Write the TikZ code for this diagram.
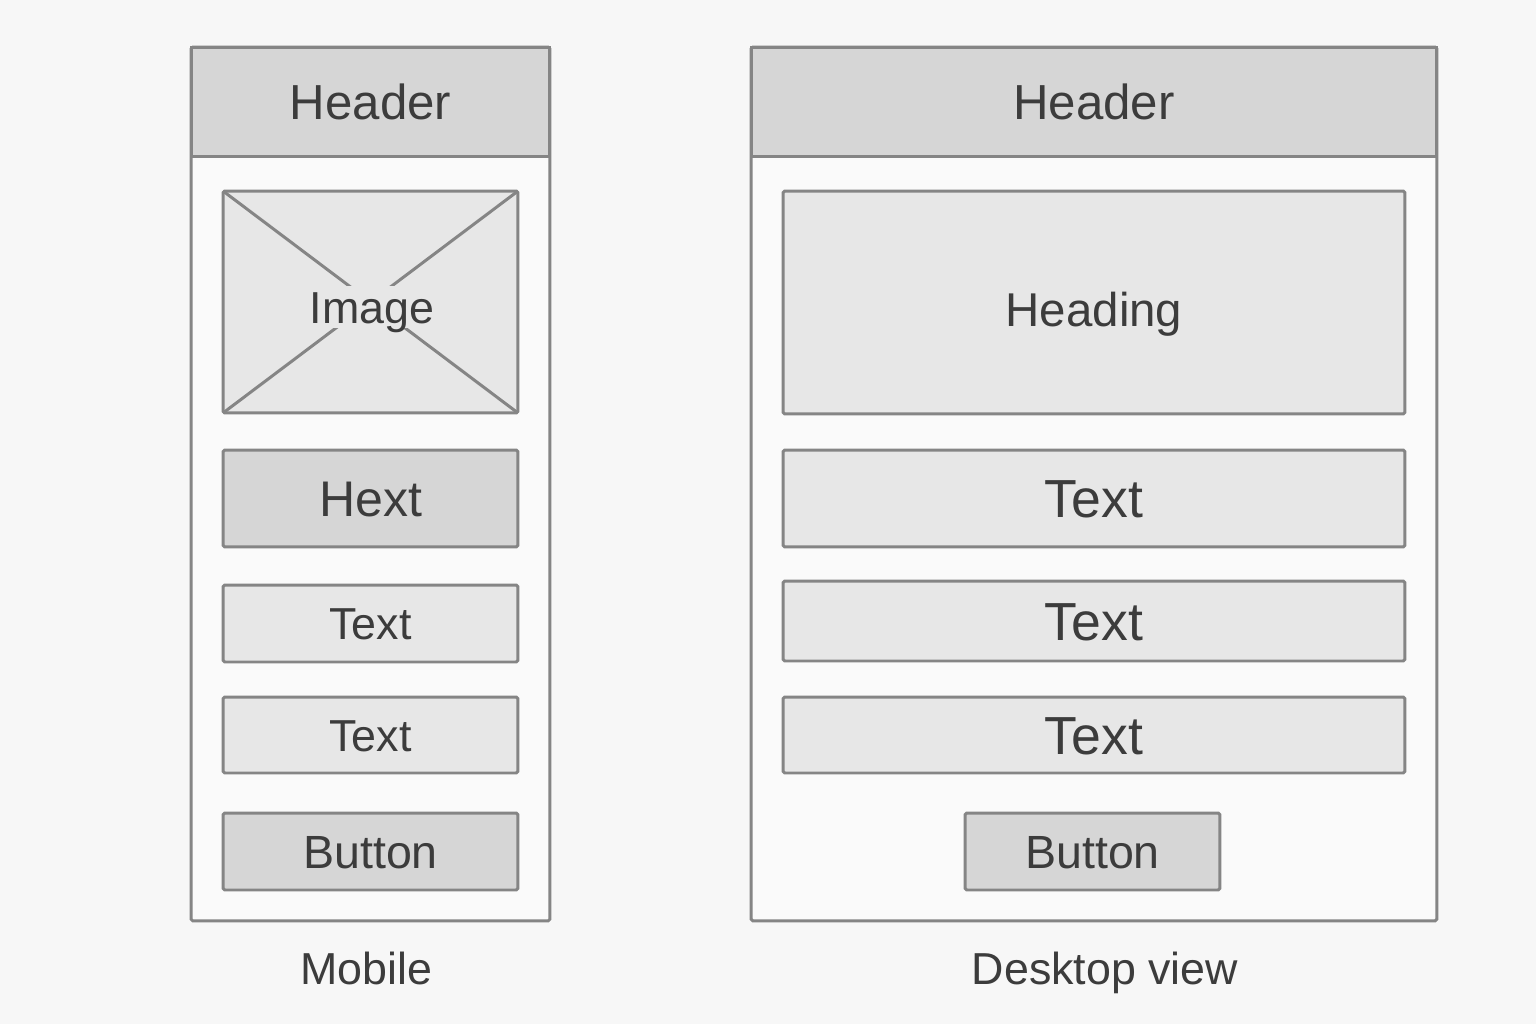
\documentclass[tikz,border=0pt]{standalone}
\usepackage{fontspec}
\setmainfont{Liberation Sans}
\usetikzlibrary{positioning}
\definecolor{bggray}{HTML}{F7F7F7}
\definecolor{framegray}{HTML}{FAFAFA}
\definecolor{edgegray}{HTML}{858585}
\definecolor{headgray}{HTML}{D6D6D6}
\definecolor{boxgray}{HTML}{E7E7E7}
\definecolor{inkgray}{HTML}{3C3C3C}
\tikzset{
	every node/.style={align=center,inner sep=0pt,outer sep=0pt,text=inkgray},
	every path/.style={line width=1.7pt},
	txt/.style={font=\fontsize{#1}{#1}\selectfont,text height={0.72*#1pt},text depth=0pt},
	viewframe/.style={draw=edgegray,fill=framegray,rounded corners=1pt},
	headbar/.style={draw=edgegray,fill=headgray,txt=28},
	lightbox/.style={draw=edgegray,fill=boxgray,rounded corners=1pt},
	darkbox/.style={draw=edgegray,fill=headgray,rounded corners=1pt},
	viewlabel/.style={txt=25.5},
}

\begin{document}
\begin{tikzpicture}[x=0.02cm,y=-0.02cm]
	\fill [bggray] (0,0) rectangle (1536,1024);
	\useasboundingbox (0,0) rectangle (1536,1024);

	%mobile view.....................
	\node [viewframe, minimum width=7.18cm, minimum height=17.48cm] (mframe) at (370.5,484) {};
	\node [headbar, minimum width=7.18cm, minimum height=2.2cm] (mhead) at (370.5,102) {Header};

	% image placeholder...................
	\node [lightbox, minimum width=5.9cm, minimum height=4.44cm] (mimg) at (370.5,302) {};
	\draw [edgegray] (mimg.north west) -- (mimg.south east);
	\draw [edgegray] (mimg.north east) -- (mimg.south west);
	\node [fill=boxgray, inner sep=3pt, txt=25.5] (mimgtext) at (372,307) {Image};

	% stacked blocks...................
	\node [darkbox, txt=28.5, minimum width=5.9cm, minimum height=1.94cm] (mhext) at (370.5,498.5) {Hext};
	\node [lightbox, txt=25.5, minimum width=5.9cm, minimum height=1.54cm] (mtexta) at (370.5,623.5) {Text};
	\node [lightbox, txt=25.5, minimum width=5.9cm, minimum height=1.52cm] (mtextb) at (370.5,735) {Text};
	\node [darkbox, txt=26.5, minimum width=5.9cm, minimum height=1.54cm] (mbutton) at (370.5,851.5) {Button};

	\node [viewlabel] (mlabel) at (366,968) {Mobile};

	%desktop view......................
	\node [viewframe, minimum width=13.72cm, minimum height=17.48cm] (dframe) at (1094,484) {};
	\node [headbar, minimum width=13.72cm, minimum height=2.2cm] (dhead) at (1094,102) {Header};

	% heading and text rows...................
	\node [lightbox, txt=27, text height=27.4pt, minimum width=12.44cm, minimum height=4.46cm] (dheading) at (1094,302.5) {Heading};
	\node [lightbox, txt=30.5, minimum width=12.44cm, minimum height=1.94cm] (dtexta) at (1094,498.5) {Text};
	\node [lightbox, txt=30.5, minimum width=12.44cm, minimum height=1.6cm] (dtextb) at (1094,621) {Text};
	\node [lightbox, txt=30.5, minimum width=12.44cm, minimum height=1.52cm] (dtextc) at (1094,735) {Text};
	\node [darkbox, txt=26.5, minimum width=5.1cm, minimum height=1.54cm] (dbutton) at (1092.5,851.5) {Button};

	\node [viewlabel] (dlabel) at (1105,968) {Desktop view};
\end{tikzpicture}
\end{document}
